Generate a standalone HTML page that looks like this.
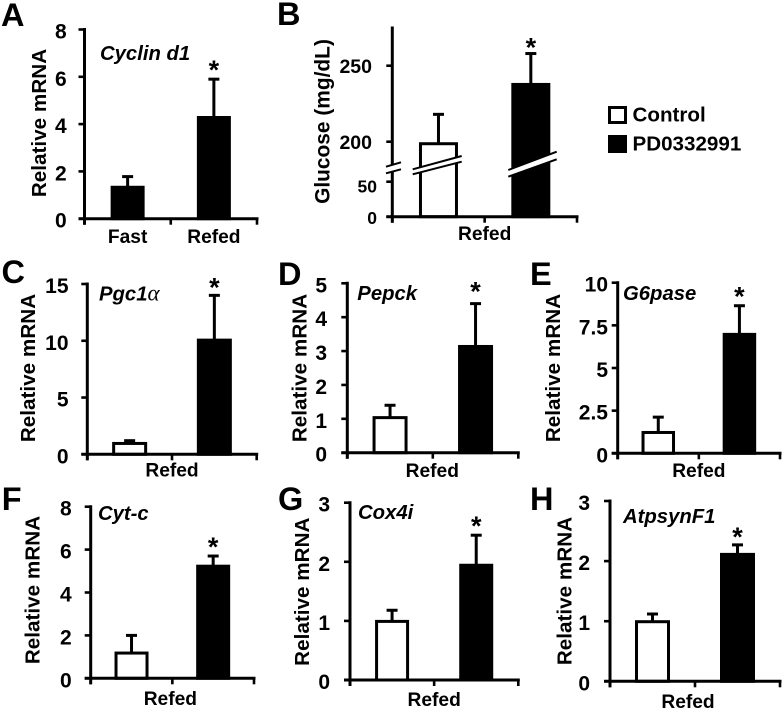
<!DOCTYPE html>
<html lang="en">
<head>
<meta charset="utf-8">
<title>Relative mRNA and glucose panels</title>
<style>
html,body{margin:0;padding:0;background:#fff;width:784px;height:711px;overflow:hidden}
svg{display:block;filter:blur(0.3px)}
text{font-family:"Liberation Sans",sans-serif;font-weight:bold;fill:#000}
</style>
</head>
<body>
<svg id="figure" xmlns="http://www.w3.org/2000/svg" width="784" height="711" viewBox="0 0 784 711">
  <g>
    <rect x="609.5" y="107.5" width="16" height="15" fill="#fff" stroke="#000" stroke-width="3"/>
    <text x="632.5" y="121.5" font-size="20.6">Control</text>
    <rect x="608" y="135" width="19" height="18" fill="#000"/>
    <text x="632.5" y="150.5" font-size="20.6">PD0332991</text>
  </g>
</svg>
<script>
// ---- chart data, panel order A to H ----
const panelLetters = ['A','B','C','D','E','F','G','H'];
const geneLabels = ['Cyclin d1','','Pgc1α','Pepck','G6pase','Cyt-c','Cox4i','AtpsynF1'];
const yAxisTitles = ['Relative mRNA','Glucose (mg/dL)','Relative mRNA','Relative mRNA','Relative mRNA','Relative mRNA','Relative mRNA','Relative mRNA'];
const xCategories = [['Fast','Refed'],['Refed'],['Refed'],['Refed'],['Refed'],['Refed'],['Refed'],['Refed']];
const yTickLabels = [
  ['0','2','4','6','8'],
  ['0','50','200','250'],
  ['0','5','10','15'],
  ['0','1','2','3','4','5'],
  ['0','2.5','5','7.5','10'],
  ['0','2','4','6','8'],
  ['0','1','2','3'],
  ['0','1','2','3']
];
const firstBarValues = [1.35,199,1.0,1.05,1.25,1.2,1.0,1.0];
const firstBarErrors = [0.43,19,0.2,0.35,0.87,0.8,0.18,0.12];
const secondBarValues = [4.3,238,10.1,3.15,7.0,5.25,1.95,2.12];
const secondBarErrors = [1.6,20,3.9,1.25,1.65,0.45,0.5,0.15];

// ---- layout ----
const layouts = [
  {x0:84.5,x1:257,top:29.5,base:218.7,barW:34,labelRight:66.7,titleX:46,titleY:123,titleSize:20.7,geneX:100,geneY:60,catY:243,catDx:0,starGap:13,letterX:1,letterY:26},
  {x0:392.3,x1:577,top:28,base:216.7,barW:39,labelRight:372,titleX:329.3,titleY:121.5,titleSize:20.9,geneX:0,geneY:0,catY:240,catDx:0,starGap:10,letterX:277,letterY:25},
  {x0:87.3,x1:256.7,top:284,base:454.3,barW:35,labelRight:68.5,titleX:35,titleY:368,titleSize:20.7,geneX:99,geneY:300.7,catY:476.7,catDx:0,starGap:12,letterX:1.5,letterY:283},
  {x0:347.3,x1:518.3,top:283.3,base:452.7,barW:35,labelRight:327,titleX:306.7,titleY:368,titleSize:20.7,geneX:357.3,geneY:300,catY:477,catDx:-0.5,starGap:16,letterX:278,letterY:285},
  {x0:617.7,x1:780,top:282.7,base:453.3,barW:33.5,labelRight:608,titleX:560,titleY:368,titleSize:20.7,geneX:623,geneY:300,catY:477,catDx:0,starGap:13,letterX:530,letterY:285},
  {x0:90.7,x1:254,top:506.7,base:678.3,barW:34,labelRight:71.7,titleX:39.3,titleY:590,titleSize:20.7,geneX:98,geneY:520,catY:705,catDx:-2,starGap:13,letterX:1.7,letterY:510},
  {x0:350,x1:518.3,top:502.7,base:680,barW:34,labelRight:330,titleX:309,titleY:591.7,titleSize:20.7,geneX:358,geneY:519,catY:706,catDx:0,starGap:13,letterX:278,letterY:510},
  {x0:610,x1:780,top:501,base:681.3,barW:35,labelRight:590,titleX:571.7,titleY:591,titleSize:20.7,geneX:623,geneY:523,catY:708,catDx:-7,starGap:12,letterX:530,letterY:510}
];

const SVG_NS = 'http://www.w3.org/2000/svg';
const root = document.getElementById('figure');

function make(tag, attrs, parent) {
  const node = document.createElementNS(SVG_NS, tag);
  for (const key in attrs) node.setAttribute(key, attrs[key]);
  parent.appendChild(node);
  return node;
}

function yScaleFor(i) {
  const L = layouts[i];
  if (i === 1) {
    // broken glucose axis: a lower segment for 0-50, an upper segment from 200 up
    return function (v) {
      return v <= 100 ? L.base - v * 0.7 : 141.7 - (v - 200) * 1.52;
    };
  }
  const ticks = yTickLabels[i];
  const maxValue = parseFloat(ticks[ticks.length - 1]);
  return function (v) {
    return L.base - (v / maxValue) * (L.base - L.top);
  };
}

function xBand(i, index, count) {
  const L = layouts[i];
  return L.x0 + (L.x1 - L.x0) * (index + 0.5) / count;
}

function drawBar(g, i, index, value, error, filled) {
  const L = layouts[i];
  const y = yScaleFor(i);
  const cx = xBand(i, index, 2);
  const errLine = make('line', {x1:cx, x2:cx, y1:y(value), y2:y(value + error), stroke:'#000', 'stroke-width':3}, g);
  
  
  const errCap = make('line', {x1:cx - 5.5, x2:cx + 5.5, y1:y(value + error), y2:y(value + error), stroke:'#000', 'stroke-width':3}, g);
  
  
  const bar = make('rect', {x:cx - L.barW / 2 + 1.5, y:y(value) + 0.5, width:L.barW - 3, height:L.base - y(value) - 0.5, fill:filled ? '#000' : '#fff', stroke:'#000', 'stroke-width':3}, g);
  
  
}

function drawPanel(i) {
  const L = layouts[i];
  const y = yScaleFor(i);
  const g = make('g', {}, root);
  
  

  const letter = make('text', {x:L.letterX, y:L.letterY, 'font-size':32.5}, g);
  letter.textContent = panelLetters[i];
  
  

  drawBar(g, i, 0, firstBarValues[i], firstBarErrors[i], i === 0);
  drawBar(g, i, 1, secondBarValues[i], secondBarErrors[i], true);

  const yAxis = make('line', {x1:L.x0, x2:L.x0, y1:L.top - 1.5, y2:L.base + 6, stroke:'#000', 'stroke-width':3}, g);
  
  

  const xAxis = make('line', {x1:L.x0 - 6, x2:L.x1 + 1.5, y1:L.base, y2:L.base, stroke:'#000', 'stroke-width':3}, g);
  
  

  [L.x0, (L.x0 + L.x1) / 2, L.x1].forEach(function (tx) {
    const xTick = make('line', {x1:tx, x2:tx, y1:L.base, y2:L.base + 6, stroke:'#000', 'stroke-width':2.6}, g);
    
    
  });

  yTickLabels[i].forEach(function (label) {
    const v = parseFloat(label);
    const tick = make('line', {x1:L.x0 - 6, x2:L.x0, y1:y(v), y2:y(v), stroke:'#000', 'stroke-width':2.6}, g);
    
    
    const lower = i === 1 && v <= 50;
    const dy = i !== 1 ? 9 : (v === 50 ? 11 : 7.5);
    const right = lower ? L.labelRight + 5 : L.labelRight;
    const tickText = make('text', {x:right, y:y(v) + dy, 'text-anchor':'end', 'font-size':lower ? 17.5 : (i === 1 ? 19.5 : 21)}, g);
    tickText.textContent = label;
    
    
  });

  const title = make('text', {transform:'translate(' + L.titleX + ' ' + L.titleY + ') rotate(-90)', 'text-anchor':'middle', 'font-size':L.titleSize}, g);
  title.textContent = yAxisTitles[i];
  
  

  xCategories[i].forEach(function (category, index, all) {
    const cat = make('text', {x:xBand(i, index, all.length) + L.catDx, y:L.catY, 'text-anchor':'middle', 'font-size':19.2}, g);
    cat.textContent = category;
    
    
  });

  if (geneLabels[i]) {
    const gene = make('text', {x:L.geneX, y:L.geneY, 'font-size':20.3, 'font-style':'italic'}, g);
    
    
    const parts = geneLabels[i].split('α');
    gene.appendChild(document.createTextNode(parts[0]));
    if (parts.length > 1) {
      const greek = make('tspan', {style:'font-family:"Liberation Serif",serif;font-weight:normal;font-size:23px'}, gene);
      greek.textContent = 'α';
    }
  }

  const star = make('text', {x:xBand(i, 1, 2), y:y(secondBarValues[i] + secondBarErrors[i]) - L.starGap + 13, 'text-anchor':'middle', 'font-size':27}, g);
  star.textContent = '*';
  
  
}

function drawBreaks() {
  const g = make('g', {}, root);
  
  

  const slashes = [
    {a:[386,166.7,401,162.3], b:[386,173.3,401,169.3], name:'y-axis-break'},
    {a:[412.7,169.3,461.7,156], b:[412.7,174.3,461.7,161.7], name:'control-bar-break'},
    {a:[508.3,170,556.7,151.7], b:[508.3,176.7,556.7,159.3], name:'treated-bar-break'}
  ];
  slashes.forEach(function (s) {
    const fill = make('polygon', {points:[s.a[0],s.a[1],s.a[2],s.a[3],s.b[2],s.b[3],s.b[0],s.b[1]].join(' '), fill:'#fff'}, g);
    
    
    [s.a, s.b].forEach(function (p) {
      const edge = make('line', {x1:p[0], y1:p[1], x2:p[2], y2:p[3], stroke:'#000', 'stroke-width':2}, g);
      
      
    });
  });
}

panelLetters.forEach(function (_, i) { drawPanel(i); });
drawBreaks();
</script>
</body>
</html>
